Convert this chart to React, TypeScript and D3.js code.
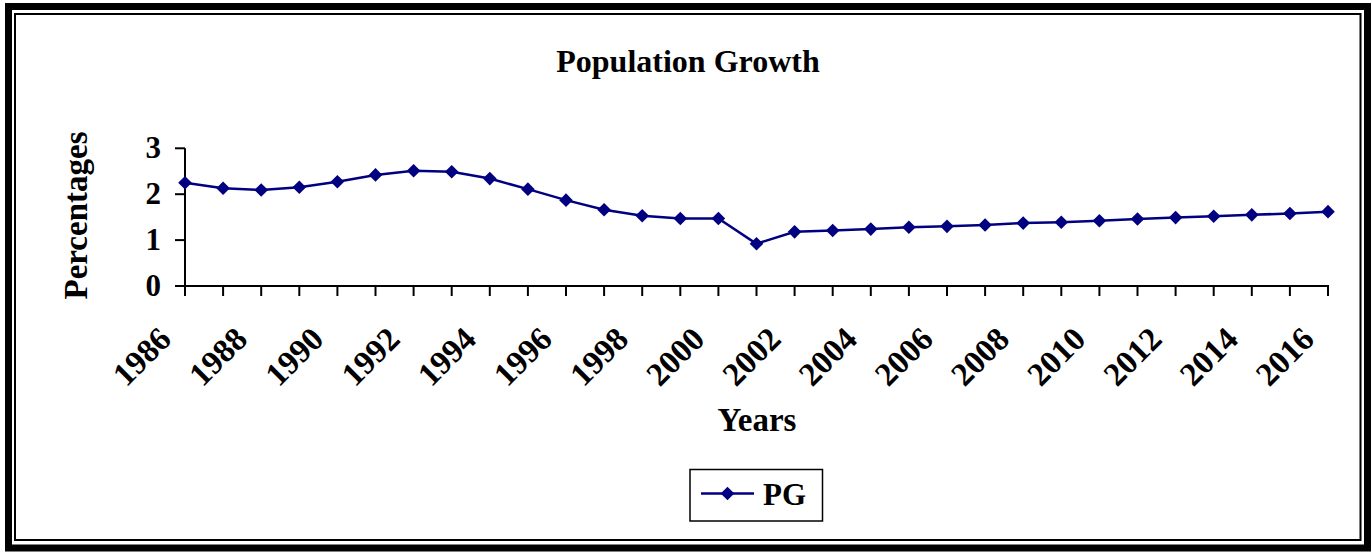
import React from "react";
import * as d3 from "d3";

const years: number[] = [
  1986, 1987, 1988, 1989, 1990, 1991, 1992, 1993, 1994, 1995, 1996, 1997, 1998, 1999, 2000,
  2001, 2002, 2003, 2004, 2005, 2006, 2007, 2008, 2009, 2010, 2011, 2012, 2013, 2014, 2015, 2016,
];
const pgValues: number[] = [
  2.25, 2.13, 2.09, 2.15, 2.27, 2.42, 2.51, 2.49, 2.34, 2.11, 1.87, 1.66, 1.53, 1.47, 1.47,
  0.92, 1.18, 1.21, 1.24, 1.28, 1.3, 1.33, 1.37, 1.39, 1.42, 1.46, 1.49, 1.52, 1.55, 1.58, 1.62,
];
const xTickLabels: string[] = [
  "1986", "1988", "1990", "1992", "1994", "1996", "1998", "2000",
  "2002", "2004", "2006", "2008", "2010", "2012", "2014", "2016",
];
const yTicks: number[] = [0, 1, 2, 3];
const seriesName = "PG";
const chartTitle = "Population Growth";
const xTitle = "Years";
const yTitle = "Percentages";

const W = 1371;
const H = 552;
const FONT = "'Liberation Serif', 'Times New Roman', serif";
const NAVY = "#000080";

function diamond(cx: number, cy: number, r: number): string {
  return `M${cx},${cy - r}L${cx + r},${cy}L${cx},${cy + r}L${cx - r},${cy}Z`;
}

export default function App() {
  const x = d3.scaleLinear().domain([years[0], years[years.length - 1]]).range([185, 1328]);
  const y = d3.scaleLinear().domain([0, 3]).range([286, 148.3]);
  const pts = years.map((yr, i) => [x(yr), y(pgValues[i])] as [number, number]);
  const linePath = d3.line()(pts) || "";

  return (
    <svg
      width={W}
      height={H}
      style={{ position: "absolute", left: 0, top: 0, background: "#fff" }}
      fontFamily={FONT}
      fontWeight="bold"
    >
      <rect x={0} y={0} width={W} height={H} fill="#fff" />
      {/* frame */}
      <rect x={8.5} y={6.5} width={1359} height={541.5} fill="none" stroke="#000" strokeWidth={7} />
      <rect x={15} y={14} width={1345.5} height={526} fill="none" stroke="#000" strokeWidth={2} />

      {/* title */}
      <text x={688} y={72} textAnchor="middle" fontSize={32}>{chartTitle}</text>

      {/* y axis */}
      <line x1={x(years[0])} x2={x(years[0])} y1={y(3)} y2={y(0) + 10} stroke="#000" strokeWidth={2} />
      {yTicks.map((t) => (
        <g key={t}>
          <line x1={175} x2={185} y1={y(t)} y2={y(t)} stroke="#000" strokeWidth={2} />
          <text x={161} y={y(t) + 10} textAnchor="end" fontSize={31}>{t}</text>
        </g>
      ))}

      {/* x axis */}
      <line x1={x(years[0]) - 10} x2={x(years[years.length - 1]) + 1} y1={y(0)} y2={y(0)} stroke="#000" strokeWidth={2} />
      {years.map((yr) => (
        <line key={yr} x1={x(yr)} x2={x(yr)} y1={y(0)} y2={y(0) + 10} stroke="#000" strokeWidth={2} />
      ))}
      {xTickLabels.map((lab) => {
        const px = x(+lab) - 12;
        const py = 341;
        return (
          <text key={lab} transform={`translate(${px},${py}) rotate(-45)`} textAnchor="end" fontSize={33}>
            {lab}
          </text>
        );
      })}

      {/* axis titles */}
      <text x={757} y={431} textAnchor="middle" fontSize={33}>{xTitle}</text>
      <text transform={`translate(87,215.5) rotate(-90)`} textAnchor="middle" fontSize={33}>{yTitle}</text>

      {/* series */}
      <path d={linePath} fill="none" stroke={NAVY} strokeWidth={2.5} />
      {pts.map(([px, py], i) => (
        <path key={i} d={diamond(px, py, 6.8)} fill={NAVY} />
      ))}

      {/* legend */}
      <rect x={690} y={469.5} width={132.5} height={51.5} fill="#fff" stroke="#000" strokeWidth={1.5} />
      <line x1={701} x2={754} y1={493.5} y2={493.5} stroke={NAVY} strokeWidth={2.5} />
      <path d={diamond(727.5, 493.5, 6.8)} fill={NAVY} />
      <text x={763} y={505} fontSize={31}>{seriesName}</text>
    </svg>
  );
}
